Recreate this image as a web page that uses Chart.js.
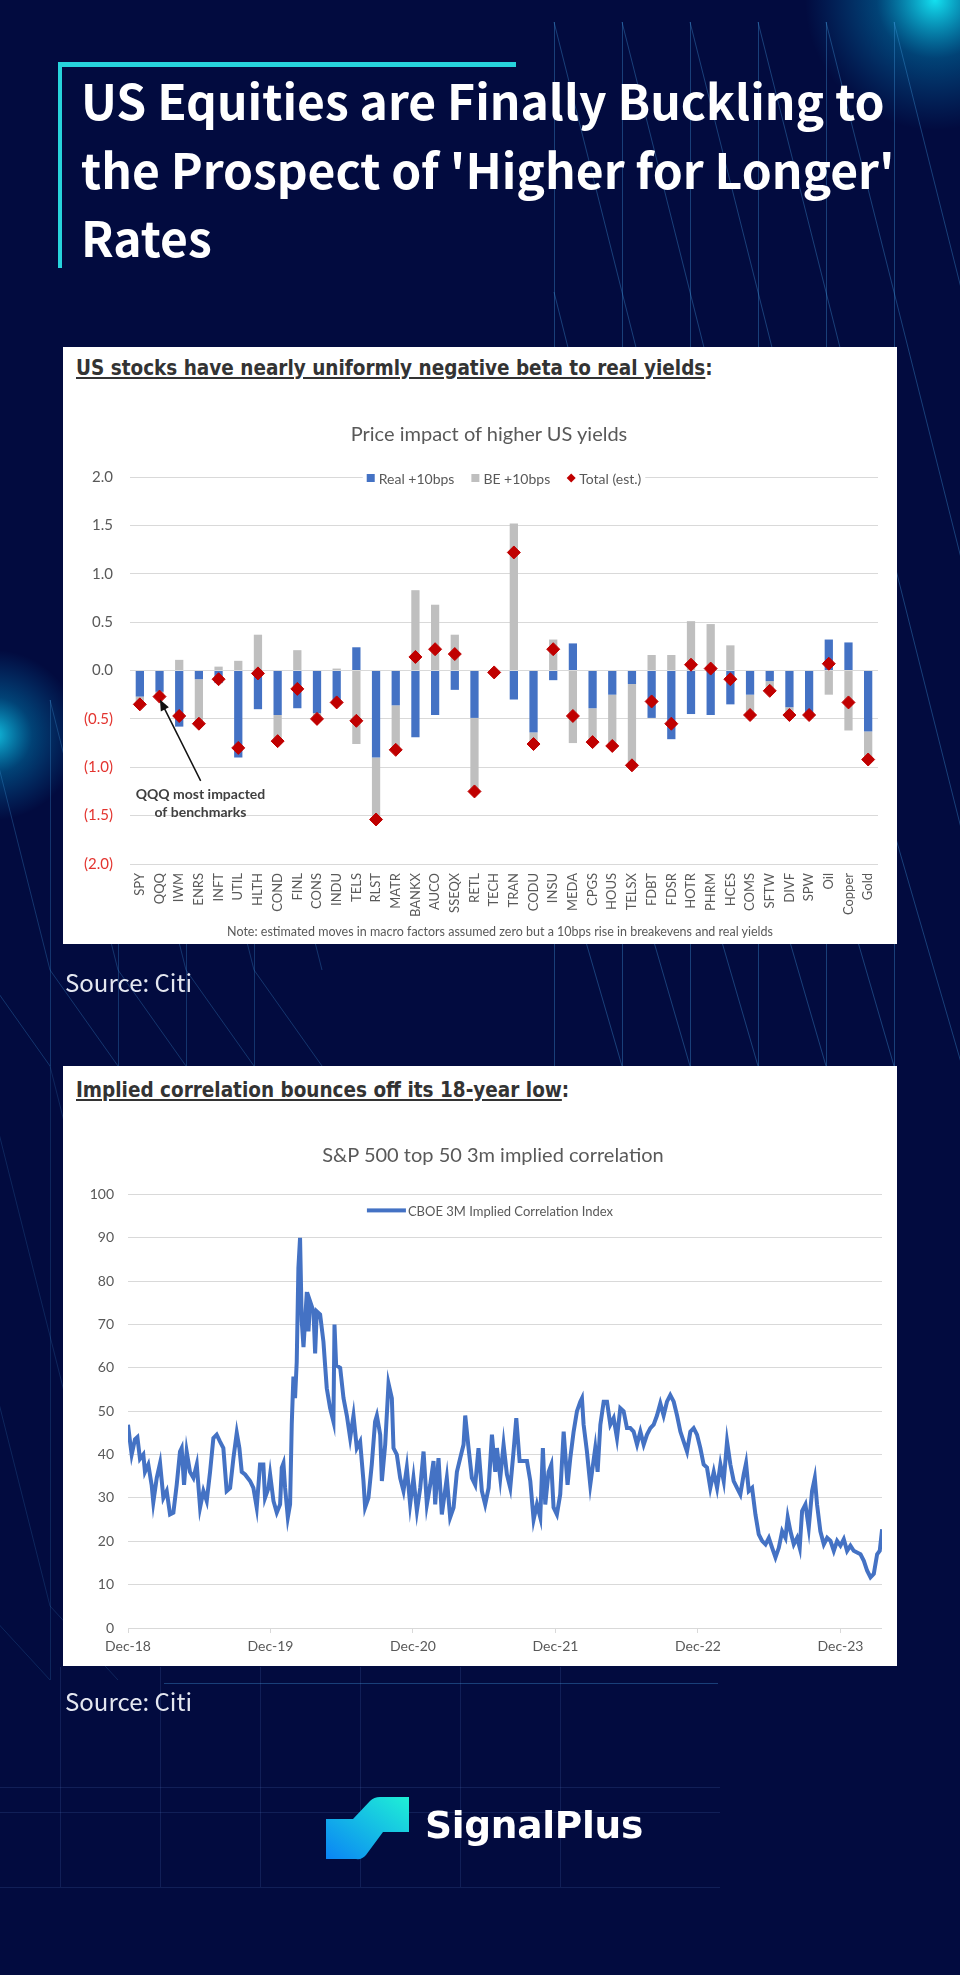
<!DOCTYPE html>
<html>
<head>
<meta charset="utf-8">
<script src="https://cdn.jsdelivr.net/npm/chart.js@4.4.1/dist/chart.umd.min.js"></script>
<style>
  html, body { margin: 0; padding: 0; }
  body { width: 960px; height: 1975px; background: #020b3f; position: relative; overflow: hidden; font-family: "Lato", sans-serif; }
  #bg { position: absolute; left: 0; top: 0; }
  .bar-h { position: absolute; left: 58px; top: 62px; width: 458px; height: 5px; background: #27d4dc; }
  .bar-v { position: absolute; left: 58px; top: 62px; width: 4px; height: 206px; background: #27d4dc; }
  h1 { position: absolute; left: 81px; top: 65px; margin: 0; font: 700 48px/68.5px "Noto Sans CJK SC", "Lato", sans-serif; color: #fff; white-space: nowrap; }
  .card { position: absolute; left: 63px; width: 834px; background: #fff; }
  #card1 { top: 347px; height: 597px; }
  #card2 { top: 1066px; height: 600px; }
  .hdr { position: absolute; left: 13px; font: 700 20.5px/24px "DejaVu Sans Condensed", "DejaVu Sans", sans-serif; color: #333; white-space: nowrap; }
  .hdr u { text-decoration: underline; text-underline-offset: 2px; }
  .ctitle { position: absolute; left: 0; width: 834px; text-align: center; font: 20px/24px "Lato", sans-serif; color: #595959; }
  .note { position: absolute; left: 0; width: 834px; text-align: center; font: 12.5px/14px "Lato", sans-serif; color: #595959; }
  .card canvas { position: absolute; left: 0; }
  .src { position: absolute; left: 65px; font: 24px/28px "Noto Sans CJK SC", "Noto Sans", sans-serif; color: #e4e7f0; }
  .logo { position: absolute; left: 326px; top: 1797px; }
  .brand { position: absolute; left: 425px; top: 1803px; font: 700 37.5px/44px "DejaVu Sans", sans-serif; color: #fff; letter-spacing: -0.3px; }
</style>
</head>
<body>
<canvas id="bg" width="960" height="1975"></canvas>
<div class="bar-h"></div>
<div class="bar-v"></div>
<h1>US Equities are Finally Buckling to<br>the Prospect of 'Higher for Longer'<br>Rates</h1>

<div class="card" id="card1">
  <div class="hdr" style="top:9px"><u>US stocks have nearly uniformly negative beta to real yields</u>:</div>
  <div class="ctitle" style="top:74px;left:9px">Price impact of higher US yields</div>
  <canvas id="impact" width="834" height="493" style="top:104px"></canvas>
  <div class="note" style="top:578px;left:20px">Note: estimated moves in macro factors assumed zero but a 10bps rise in breakevens and real yields</div>
</div>
<div class="src" style="top:968px">Source: Citi</div>

<div class="card" id="card2">
  <div class="hdr" style="top:12px"><u>Implied correlation bounces off its 18-year low</u>:</div>
  <div class="ctitle" style="top:76px;left:13px">S&amp;P 500 top 50 3m implied correlation</div>
  <canvas id="corr" width="834" height="494" style="top:106px"></canvas>
</div>
<div class="src" style="top:1687px">Source: Citi</div>

<svg class="logo" width="84" height="63" viewBox="0 0 84 63">
  <defs>
    <linearGradient id="lg" x1="0" y1="1" x2="1" y2="0">
      <stop offset="0" stop-color="#0a84f5"/>
      <stop offset="1" stop-color="#1ff0d6"/>
    </linearGradient>
  </defs>
  <path d="M83 0 L83 35 L57 35 L40 58 Q36 63 30 62 L0 62 L0 22 L27 22 L44 4 Q48 0 54 0 Z" fill="url(#lg)"/>
</svg>
<div class="brand">SignalPlus</div>

<script>
// ---- chart 1: price impact of +10bps ----
const impactLabels = [
  "SPY", "QQQ", "IWM", "ENRS", "INFT", "UTIL", "HLTH", "COND", "FINL", "CONS",
  "INDU", "TELS", "RLST", "MATR", "BANKX", "AUCO", "SSEQX", "RETL", "TECH", "TRAN",
  "CODU", "INSU", "MEDA", "CPGS", "HOUS", "TELSX", "FDBT", "FDSR", "HOTR", "PHRM",
  "HCES", "COMS", "SFTW", "DIVF", "SPW", "Oil", "Copper", "Gold"
];
const realVals = [
  -0.27, -0.22, -0.58, -0.09, -0.13, -0.90, -0.40, -0.46, -0.39, -0.44,
  -0.35, 0.24, -0.90, -0.36, -0.69, -0.46, -0.20, -0.49, -0.01, -0.30,
  -0.64, -0.10, 0.28, -0.39, -0.25, -0.14, -0.49, -0.71, -0.45, -0.46,
  -0.35, -0.25, -0.11, -0.38, -0.44, 0.32, 0.29, -0.63
];
const beVals = [
  -0.08, -0.05, 0.11, -0.46, 0.04, 0.10, 0.37, -0.27, 0.21, -0.06,
  0.02, -0.76, -0.64, -0.46, 0.83, 0.68, 0.37, -0.76, -0.01, 1.52,
  -0.12, 0.32, -0.75, -0.35, -0.53, -0.84, 0.16, 0.16, 0.51, 0.48,
  0.26, -0.21, -0.10, -0.08, -0.02, -0.25, -0.62, -0.29
];
const totalVals = [
  -0.35, -0.27, -0.47, -0.55, -0.09, -0.80, -0.03, -0.73, -0.19, -0.50,
  -0.33, -0.52, -1.54, -0.82, 0.14, 0.22, 0.17, -1.25, -0.02, 1.22,
  -0.76, 0.22, -0.47, -0.74, -0.78, -0.98, -0.32, -0.55, 0.06, 0.02,
  -0.09, -0.46, -0.21, -0.46, -0.46, 0.07, -0.33, -0.92
];
const impactSeries = ["Real +10bps", "BE +10bps", "Total (est.)"];

// ---- chart 2: implied correlation (months after Dec-18) ----
const corrTickLabels = ["Dec-18", "Dec-19", "Dec-20", "Dec-21", "Dec-22", "Dec-23"];
const corrMonths = [
  0, 0.17, 0.31, 0.59, 0.79, 1.01, 1.29, 1.43, 1.71, 1.99, 2.13, 2.42, 2.7, 2.98, 3.26, 3.54, 3.82, 4.1, 4.38, 4.52,
  4.72, 4.94, 5.22, 5.51, 5.79, 6.07, 6.35, 6.63, 6.91, 7.19, 7.47, 7.75, 8.03, 8.31, 8.6, 8.88, 9.16, 9.38, 9.58, 9.86,
  10.28, 10.56, 10.84, 11.12, 11.4, 11.54, 11.83, 11.97, 12.25, 12.53, 12.81, 12.95, 13.09, 13.23, 13.46, 13.65, 13.79, 13.93, 14.07, 14.21,
  14.35, 14.49, 14.63, 14.78, 15.06, 15.2, 15.34, 15.62, 15.76, 15.9, 16.18, 16.46, 16.6, 16.74, 17.02, 17.3, 17.39, 17.53, 17.87, 18.15,
  18.43, 18.71, 18.99, 19.27, 19.55, 19.83, 19.97, 20.25, 20.53, 20.81, 20.96, 21.24, 21.38, 21.66, 21.94, 22.22, 22.36, 22.64, 22.92, 23.2,
  23.48, 23.76, 24.04, 24.33, 24.61, 24.89, 25.17, 25.45, 25.73, 25.87, 26.15, 26.43, 26.85, 27.13, 27.42, 27.7, 27.98, 28.26, 28.4, 28.68,
  28.96, 29.24, 29.52, 29.8, 30.08, 30.37, 30.65, 30.93, 31.07, 31.35, 31.63, 31.91, 32.19, 32.47, 32.7, 32.98, 33.2, 33.6, 33.88, 34.16,
  34.44, 34.72, 34.94, 35.14, 35.42, 35.65, 35.84, 36.12, 36.4, 36.69, 37.02, 37.25, 37.53, 37.81, 38.09, 38.23, 38.37, 38.65, 38.93, 39.35,
  39.55, 39.78, 40.06, 40.34, 40.62, 40.9, 41.18, 41.46, 41.74, 42.02, 42.3, 42.58, 42.87, 43.15, 43.43, 43.71, 43.99, 44.27, 44.55, 44.83,
  45.11, 45.39, 45.67, 45.96, 46.24, 46.52, 46.8, 47.08, 47.36, 47.64, 47.92, 48.2, 48.48, 48.76, 49.04, 49.33, 49.61, 49.89, 50.17, 50.45,
  50.73, 51.01, 51.29, 51.57, 51.85, 52.05, 52.28, 52.56, 52.84, 53.12, 53.4, 53.69, 53.97, 54.25, 54.53, 54.81, 55.09, 55.37, 55.56, 55.79,
  56.07, 56.35, 56.57, 56.77, 57.05, 57.33, 57.61, 57.84, 58.03, 58.31, 58.6, 58.88, 59.16, 59.44, 59.72, 60.0, 60.28, 60.56, 60.84, 61.12,
  61.4, 61.69, 61.97, 62.25, 62.53, 62.81, 63.09, 63.31, 63.51
];
const corrValues = [
  46.9, 43, 40, 43.5, 44, 39, 40, 36, 37.7, 33, 29, 34.6, 38, 30, 31.6, 26.2, 26.6, 33, 40.7, 41.5,
  33, 40.7, 36, 34.6, 37.7, 27.8, 31.6, 29.3, 36, 43.8, 44.6, 43, 41.5, 31.6, 32.3, 39.2, 45, 41.5, 36, 35.4,
  33.9, 32.3, 27.8, 37.7, 37.7, 30, 32.3, 35.4, 29.3, 26.6, 28.5, 37, 38, 32.3, 25.5, 28.5, 46.9, 58, 53, 61.4,
  83, 90, 70.8, 64.8, 77.5, 68.4, 75.3, 73, 63.3, 73, 72.3, 66, 60.6, 55.3, 50.7, 47.6, 70, 60.6, 60, 53,
  49, 43.8, 49, 41.5, 43, 33.9, 27.8, 30, 37.7, 47.6, 49, 44.6, 33.9, 42.3, 56.4, 53, 41.5, 40, 34.6, 31.6,
  37, 28.5, 34.6, 27, 32.3, 40.7, 28.5, 33, 38.5, 28.5, 39.2, 26.2, 34.6, 25.5, 27.8, 36, 39.2, 42.3, 49, 41.5,
  34.6, 33, 41.5, 31.6, 28.5, 32.3, 44.6, 36, 41.5, 34.6, 42.3, 35.4, 32.3, 40.7, 48.4, 38.5, 38.5, 38.5, 33.9, 25,
  28.5, 25.5, 41.5, 28.5, 36, 37.7, 27.8, 26.2, 30.8, 45.3, 33, 39.2, 45.3, 50, 52.2, 53, 46.9, 40.7, 33, 41.5,
  36, 46.9, 52.2, 52.2, 46.9, 48.4, 43.8, 50.7, 50, 46.1, 46.1, 45.3, 42.3, 45.3, 42.3, 44.6, 46.1, 46.9, 49, 51.8,
  49, 52.2, 53.7, 52.2, 49, 45.3, 43, 40.7, 45.3, 46.1, 44.6, 41.5, 37.7, 37, 32.3, 36, 32.3, 37.7, 33.9, 43,
  37.7, 33.9, 32.3, 30.8, 35.4, 38, 31.6, 32.3, 26.2, 21.6, 20.1, 19.3, 20.8, 18.5, 16.3, 18.5, 22.3, 20.8, 25.5, 22.3,
  19.3, 20.8, 18.5, 27, 28.5, 23.1, 31.6, 34.6, 28.5, 22.3, 19.3, 20.8, 20.1, 17.8, 20.1, 19, 20.5, 17.8, 19, 17.8,
  17.4, 17, 15.5, 13.2, 11.7, 12.5, 17, 17.8, 22.8
];
const corrSeries = "CBOE 3M Implied Correlation Index";

// annotation on chart 1, in category index / value units
const qqqNote = {
  lines: ["QQQ most impacted", "of benchmarks"],
  textAt: [3.08, -1.28, -1.47],
  tail: [3.09, -1.14],
  head: [1.02, -0.30]
};

const BLUE = "#4472C4";
const GREY = "#BFBFBF";
const RED = "#C00000";
const TXT = "#595959";

// ---- background decoration ----
const bg = document.getElementById("bg").getContext("2d");
bg.fillStyle = "#020b3f";
bg.fillRect(0, 0, 960, 1975);

function glow(x, y, r, c) {
  const g = bg.createRadialGradient(x, y, 0, x, y, r);
  g.addColorStop(0, c);
  g.addColorStop(0.45, "rgba(0,170,220,0.35)");
  g.addColorStop(1, "rgba(0,150,220,0)");
  bg.fillStyle = g;
  bg.fillRect(x - r, y - r, 2 * r, 2 * r);
}
glow(935, 0, 130, "rgba(20,225,240,1)");
glow(-6, 735, 85, "rgba(20,210,240,0.9)");

function lattice(x0, x1, y0, y1, step, rise, alpha) {
  bg.strokeStyle = `rgba(70,160,230,${alpha})`;
  bg.lineWidth = 1;
  bg.beginPath();
  for (let x = x0; x <= x1; x += step) {
    bg.moveTo(x + 0.5, y0);
    bg.lineTo(x + 0.5, y1);
    for (let y = y0; y < y1; y += rise) {
      bg.moveTo(x, y);
      bg.lineTo(x + step, Math.min(y + rise, y1));
    }
  }
  bg.stroke();
}
lattice(554, 960, 22, 1066, 68, 270, 0.35);
lattice(-18, 260, 700, 1066, 68, 270, 0.28);
lattice(-18, 50, 1066, 1680, 68, 270, 0.18);

bg.strokeStyle = "rgba(90,120,200,0.18)";
bg.beginPath();
for (let x = 60; x <= 560; x += 100) { bg.moveTo(x + 0.5, 1667); bg.lineTo(x + 0.5, 1887); }
[1787, 1812, 1887].forEach(y => { bg.moveTo(0, y + 0.5); bg.lineTo(720, y + 0.5); });
bg.stroke();
bg.strokeStyle = "rgba(70,160,230,0.35)";
bg.beginPath();
bg.moveTo(164, 1683.5); bg.lineTo(718, 1683.5);
bg.stroke();

// ---- legend drawn on the top gridline, like the Excel original ----
const insideLegend = {
  id: "insideLegend",
  afterDraw(chart, args, opts) {
    const { ctx, chartArea } = chart;
    const items = chart.data.datasets.map(ds => {
      let kind = "box";
      if (ds.pointStyle === "rectRot") kind = "diamond";
      else if ((ds.type || chart.config.type) === "line") kind = "line";
      return { text: ds.label, color: ds.borderColor || ds.backgroundColor, kind };
    });
    ctx.save();
    ctx.font = `${opts.size}px Lato`;
    ctx.textBaseline = "middle";
    const markW = k => (k === "line" ? 39 : 8);
    const widths = items.map(it => markW(it.kind) + opts.gap + ctx.measureText(it.text).width);
    const total = widths.reduce((a, b) => a + b, 0) + opts.spacing * (items.length - 1);
    let x = (chartArea.left + chartArea.right) / 2 + opts.dx - total / 2;
    const y = chartArea.top + opts.dy;
    ctx.fillStyle = "#fff";
    ctx.fillRect(x - 4, y - 8, total + 8, 16);
    items.forEach((it, i) => {
      ctx.fillStyle = it.color;
      if (it.kind === "box") {
        ctx.fillRect(x, y - 4, 8, 8);
      } else if (it.kind === "diamond") {
        ctx.beginPath();
        ctx.moveTo(x + 4, y - 4.5); ctx.lineTo(x + 8.5, y); ctx.lineTo(x + 4, y + 4.5); ctx.lineTo(x - 0.5, y);
        ctx.closePath(); ctx.fill();
      } else {
        ctx.fillRect(x, y - 2, 39, 4);
      }
      ctx.fillStyle = TXT;
      ctx.fillText(it.text, x + markW(it.kind) + opts.gap, y + 1);
      x += widths[i] + opts.spacing;
    });
    ctx.restore();
  }
};

const noteArrow = {
  id: "noteArrow",
  afterDraw(chart, args, note) {
    const { ctx, scales: { x, y } } = chart;
    const tx = x.getPixelForValue(note.tail[0]), ty = y.getPixelForValue(note.tail[1]);
    const hx = x.getPixelForValue(note.head[0]), hy = y.getPixelForValue(note.head[1]);
    const ang = Math.atan2(hy - ty, hx - tx);
    ctx.save();
    ctx.strokeStyle = "#111";
    ctx.fillStyle = "#111";
    ctx.lineWidth = 1.5;
    ctx.beginPath();
    ctx.moveTo(tx, ty);
    ctx.lineTo(hx - 8 * Math.cos(ang), hy - 8 * Math.sin(ang));
    ctx.stroke();
    ctx.beginPath();
    ctx.moveTo(hx, hy);
    ctx.lineTo(hx - 11 * Math.cos(ang) + 4.5 * Math.sin(ang), hy - 11 * Math.sin(ang) - 4.5 * Math.cos(ang));
    ctx.lineTo(hx - 11 * Math.cos(ang) - 4.5 * Math.sin(ang), hy - 11 * Math.sin(ang) + 4.5 * Math.cos(ang));
    ctx.closePath();
    ctx.fill();
    ctx.font = "bold 14px Lato";
    ctx.fillStyle = "#404040";
    ctx.textAlign = "center";
    ctx.textBaseline = "middle";
    const cx = x.getPixelForValue(note.textAt[0]);
    note.lines.forEach((line, i) => ctx.fillText(line, cx, y.getPixelForValue(note.textAt[i + 1])));
    ctx.restore();
  }
};

Chart.defaults.font.family = "Lato";
Chart.defaults.color = TXT;

new Chart(document.getElementById("impact"), {
  type: "bar",
  data: {
    labels: impactLabels,
    datasets: [
      { label: impactSeries[0], data: realVals, backgroundColor: BLUE, stack: "s", order: 1,
        barPercentage: 0.42, categoryPercentage: 1 },
      { label: impactSeries[1], data: beVals, backgroundColor: GREY, stack: "s", order: 1,
        barPercentage: 0.42, categoryPercentage: 1 },
      { type: "line", label: impactSeries[2], data: totalVals, stack: "t", order: 0, showLine: false,
        pointStyle: "rectRot", pointRadius: 6.5, pointBorderWidth: 1,
        backgroundColor: RED, borderColor: RED, pointBackgroundColor: RED, pointBorderColor: RED }
    ]
  },
  options: {
    responsive: false,
    animation: false,
    layout: { padding: { top: 20, right: 19, bottom: 20, left: 0 } },
    plugins: {
      legend: { display: false },
      tooltip: { enabled: false },
      insideLegend: { size: 14, gap: 4, spacing: 17, dx: 0, dy: 1 },
      noteArrow: qqqNote
    },
    scales: {
      x: {
        stacked: true,
        grid: { display: false, drawTicks: false },
        border: { display: false },
        ticks: { autoSkip: false, minRotation: 90, maxRotation: 90, padding: 9, color: TXT, font: { size: 13 } },
        afterFit(s) { s.height = 60; }
      },
      y: {
        stacked: true,
        min: -2,
        max: 2,
        grid: { color: "#D9D9D9", drawTicks: false },
        border: { display: false },
        ticks: {
          stepSize: 0.5,
          padding: 17,
          font: { size: 15 },
          color: c => (c.tick && c.tick.value < 0 ? "#E3342F" : TXT),
          callback: v => (v < 0 ? "(" + Math.abs(v).toFixed(1) + ")" : v.toFixed(1))
        },
        afterFit(s) { s.width = 67; }
      }
    }
  },
  plugins: [insideLegend, noteArrow]
});

new Chart(document.getElementById("corr"), {
  type: "line",
  data: {
    datasets: [{
      label: corrSeries,
      data: corrMonths.map((m, i) => ({ x: m, y: corrValues[i] })),
      borderColor: BLUE,
      backgroundColor: BLUE,
      borderWidth: 4,
      pointRadius: 0,
      tension: 0
    }]
  },
  options: {
    responsive: false,
    animation: false,
    layout: { padding: { top: 20, right: 15, bottom: 8, left: 0 } },
    plugins: {
      legend: { display: false },
      tooltip: { enabled: false },
      insideLegend: { size: 13, gap: 2, spacing: 0, dx: -15, dy: 16 }
    },
    scales: {
      x: {
        type: "linear",
        min: 0,
        max: 63.5,
        grid: { drawOnChartArea: false, drawTicks: true, tickLength: 5, color: "#D9D9D9" },
        border: { display: false },
        ticks: {
          stepSize: 12,
          includeBounds: false,
          padding: 5,
          color: TXT,
          font: { size: 14 },
          callback: v => corrTickLabels[Math.round(v / 12)]
        },
        afterFit(s) { s.height = 30; }
      },
      y: {
        min: 0,
        max: 100,
        grid: { color: "#D9D9D9", drawTicks: false },
        border: { display: false },
        ticks: { stepSize: 10, padding: 14, color: TXT, font: { size: 14 } },
        afterFit(s) { s.width = 65; }
      }
    }
  },
  plugins: [insideLegend]
});
</script>
</body>
</html>
